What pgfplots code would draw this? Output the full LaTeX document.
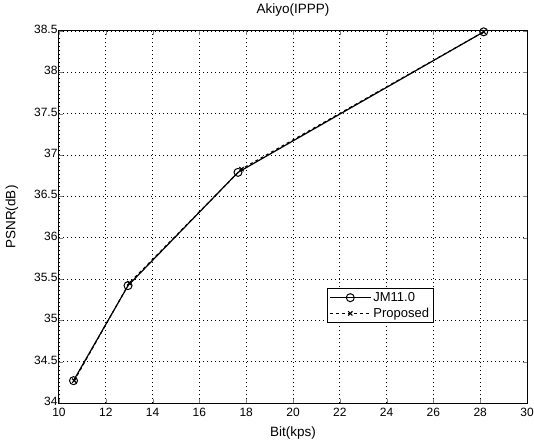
\documentclass[border=0pt]{standalone}
\usepackage{pgfplots}
\pgfplotsset{compat=1.18}
\usepackage{fontspec}
\setmainfont{Liberation Sans}
\begin{document}
\begin{tikzpicture}
\begin{axis}[
  scale only axis,
  width=468pt, height=372pt,
  xmin=10, xmax=30, ymin=34, ymax=38.5,
  xtick={10,12,...,30},
  ytick={34,34.5,...,38.5},
  yticklabel style={/pgf/number format/fixed, xshift=2pt, yshift=1.5pt},
  xticklabel style={yshift=-2pt},
  /pgf/number format/assume math mode=true,
  tick label style={font=\fontsize{12}{14}\selectfont},
  tick align=inside,
  major tick length=4pt,
  grid=major,
  major grid style={black, dash pattern=on 1pt off 3pt, line width=0.7pt},
  axis line style={black, line width=1pt},
  title={Akiyo(IPPP)},
  title style={font=\fontsize{13.5}{15}\selectfont, at={(axis description cs:0.5,1)}, anchor=center, yshift=15pt},
  xlabel={Bit(kps)},
  ylabel={PSNR(dB)},
  label style={font=\fontsize{13.5}{15}\selectfont},
  xlabel style={at={(axis description cs:0.5,0)}, anchor=center, yshift=-30pt},
  ylabel style={at={(axis description cs:0,0.5)}, anchor=center, rotate=0, yshift=47pt},
  legend style={at={(0.572,0.214)}, anchor=south west, font=\fontsize{13}{15}\selectfont, draw=black, line width=1pt, inner sep=2pt, row sep=1pt},
  legend cell align=left,
  legend image code/.code={\draw[mark repeat=2,mark phase=2,#1] plot coordinates {(0cm,0cm) (0.72cm,0cm) (1.44cm,0cm)};},
]
\addplot[black, line width=1.2pt, mark=o, mark size=4pt, mark options={solid, line width=1pt}] coordinates {
  (10.62,34.27) (12.95,35.42) (17.65,36.79) (28.15,38.49)
};
\addlegendentry{JM11.0}
\addplot[black, dashed, line width=1.1pt, mark=x, mark size=3pt, mark options={solid}] coordinates {
  (10.65,34.27) (13.0,35.45) (17.8,36.83) (28.15,38.49)
};
\addlegendentry{Proposed}
\end{axis}
\pgfresetboundingbox
\path (current axis.south west) ++(-59pt,-41pt) rectangle ([xshift=7pt,yshift=31pt]current axis.north east);
\end{tikzpicture}
\end{document}
